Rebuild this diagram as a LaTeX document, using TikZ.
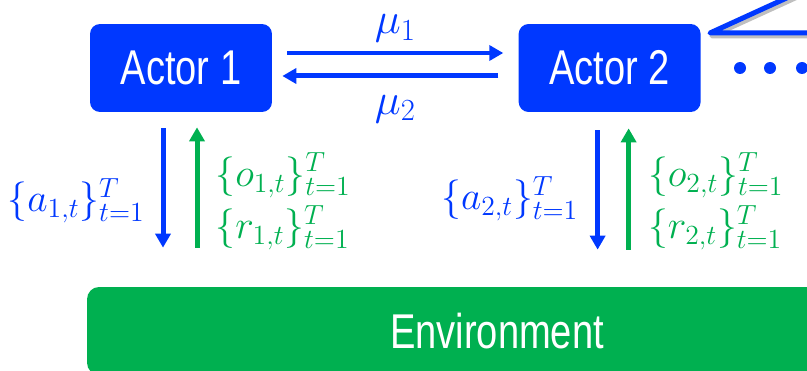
\RequirePackage{fix-cm}
\documentclass[tikz,border=0pt]{standalone}
\usepackage{fontspec}
\newfontfamily\boxfont[FakeStretch=0.78]{Liberation Sans}
\usetikzlibrary{positioning,arrows.meta,calc}
\definecolor{ActorBlue}{HTML}{0038FF}
\definecolor{EnvGreen}{HTML}{00B050}

\begin{document}
\begin{tikzpicture}[x=0.02cm,y=-0.02cm,
    actorbox/.style={fill=ActorBlue,rounded corners=0.2cm,minimum width=3.64cm,minimum height=1.76cm,text=white,font=\boxfont\fontsize{27.8}{30}\selectfont},
    envbox/.style={fill=EnvGreen,rounded corners=0.24cm,minimum width=16.4cm,minimum height=1.76cm,text=white,font=\boxfont\fontsize{27.8}{30}\selectfont},
    flow/.style={line width=0.1cm,-{Triangle[length=0.28cm,width=0.3cm]}},
    lbl/.style={inner sep=0pt,font=\fontsize{22.5}{30}\selectfont,align=left},
    dotnode/.style={circle,fill=ActorBlue,inner sep=0pt,minimum size=0.24cm}]
  \useasboundingbox (0,0) rectangle (807,371);
  \clip (0,0) rectangle (807,371);
  \node[actorbox] (actor1) at (181,68) {Actor 1};
  \node[actorbox,right=4.92cm of actor1] (actor2) {Actor 2};
  \node[envbox] (env) at (497,331) {Environment};
  % messages between the actors
  \draw[flow,ActorBlue,shorten <=0.3cm,shorten >=0.3cm] ([yshift=0.3cm]actor1.east) -- node[above=0.05cm,font=\fontsize{25}{30}\selectfont]{$\mu_1$} ([yshift=0.3cm]actor2.west);
  \draw[flow,ActorBlue,shorten <=0.4cm,shorten >=0.2cm] ([yshift=-0.16cm]actor2.west) -- node[below=0.22cm,font=\fontsize{25}{30}\selectfont]{$\mu_2$} ([yshift=-0.16cm]actor1.east);
  % actions and observations
  \draw[flow,ActorBlue,shorten <=0.32cm,shorten >=0.78cm] ($(actor1.south)+(-18,0)$) -- node[lbl,text=ActorBlue,left=0.32cm,yshift=-0.02cm]{$\{a_{1,t}\}_{t=1}^{T}$} ($(env.north -| actor1.south)+(-18,0)$);
  \draw[flow,EnvGreen,shorten <=0.78cm,shorten >=0.3cm] ($(env.north -| actor1.south)+(16,0)$) -- node[lbl,text=EnvGreen,right=0.32cm,yshift=-0.04cm]{$\{o_{1,t}\}_{t=1}^{T}$\\$\{r_{1,t}\}_{t=1}^{T}$} ($(actor1.south)+(16,0)$);
  \draw[flow,ActorBlue,shorten <=0.36cm,shorten >=0.74cm] ($(actor2.south)+(-12,0)$) -- node[lbl,text=ActorBlue,left=0.34cm,yshift=0.02cm]{$\{a_{2,t}\}_{t=1}^{T}$} ($(env.north -| actor2.south)+(-12,0)$);
  \draw[flow,EnvGreen,shorten <=0.74cm,shorten >=0.32cm] ($(env.north -| actor2.south)+(19,0)$) -- node[lbl,text=EnvGreen,right=0.34cm,yshift=-0.04cm]{$\{o_{2,t}\}_{t=1}^{T}$\\$\{r_{2,t}\}_{t=1}^{T}$} ($(actor2.south)+(19,0)$);
  % zoom lines and dots
  \coordinate (tip) at (710,33);
  \coordinate (outA) at (830,33);
  \coordinate (outB) at (850,-31);
  \draw[line width=0.1cm,black!25,line join=round] ($(outA)+(2,3)$) -- ($(tip)+(2,3)$) -- ($(outB)+(2,3)$);
  \draw[line width=0.1cm,ActorBlue,line join=round] (outA) -- (tip) -- (outB);
  \foreach \px [count=\i] in {740,770,802}
    \node[dotnode] (dot\i) at (\px,68) {};
\end{tikzpicture}
\end{document}
